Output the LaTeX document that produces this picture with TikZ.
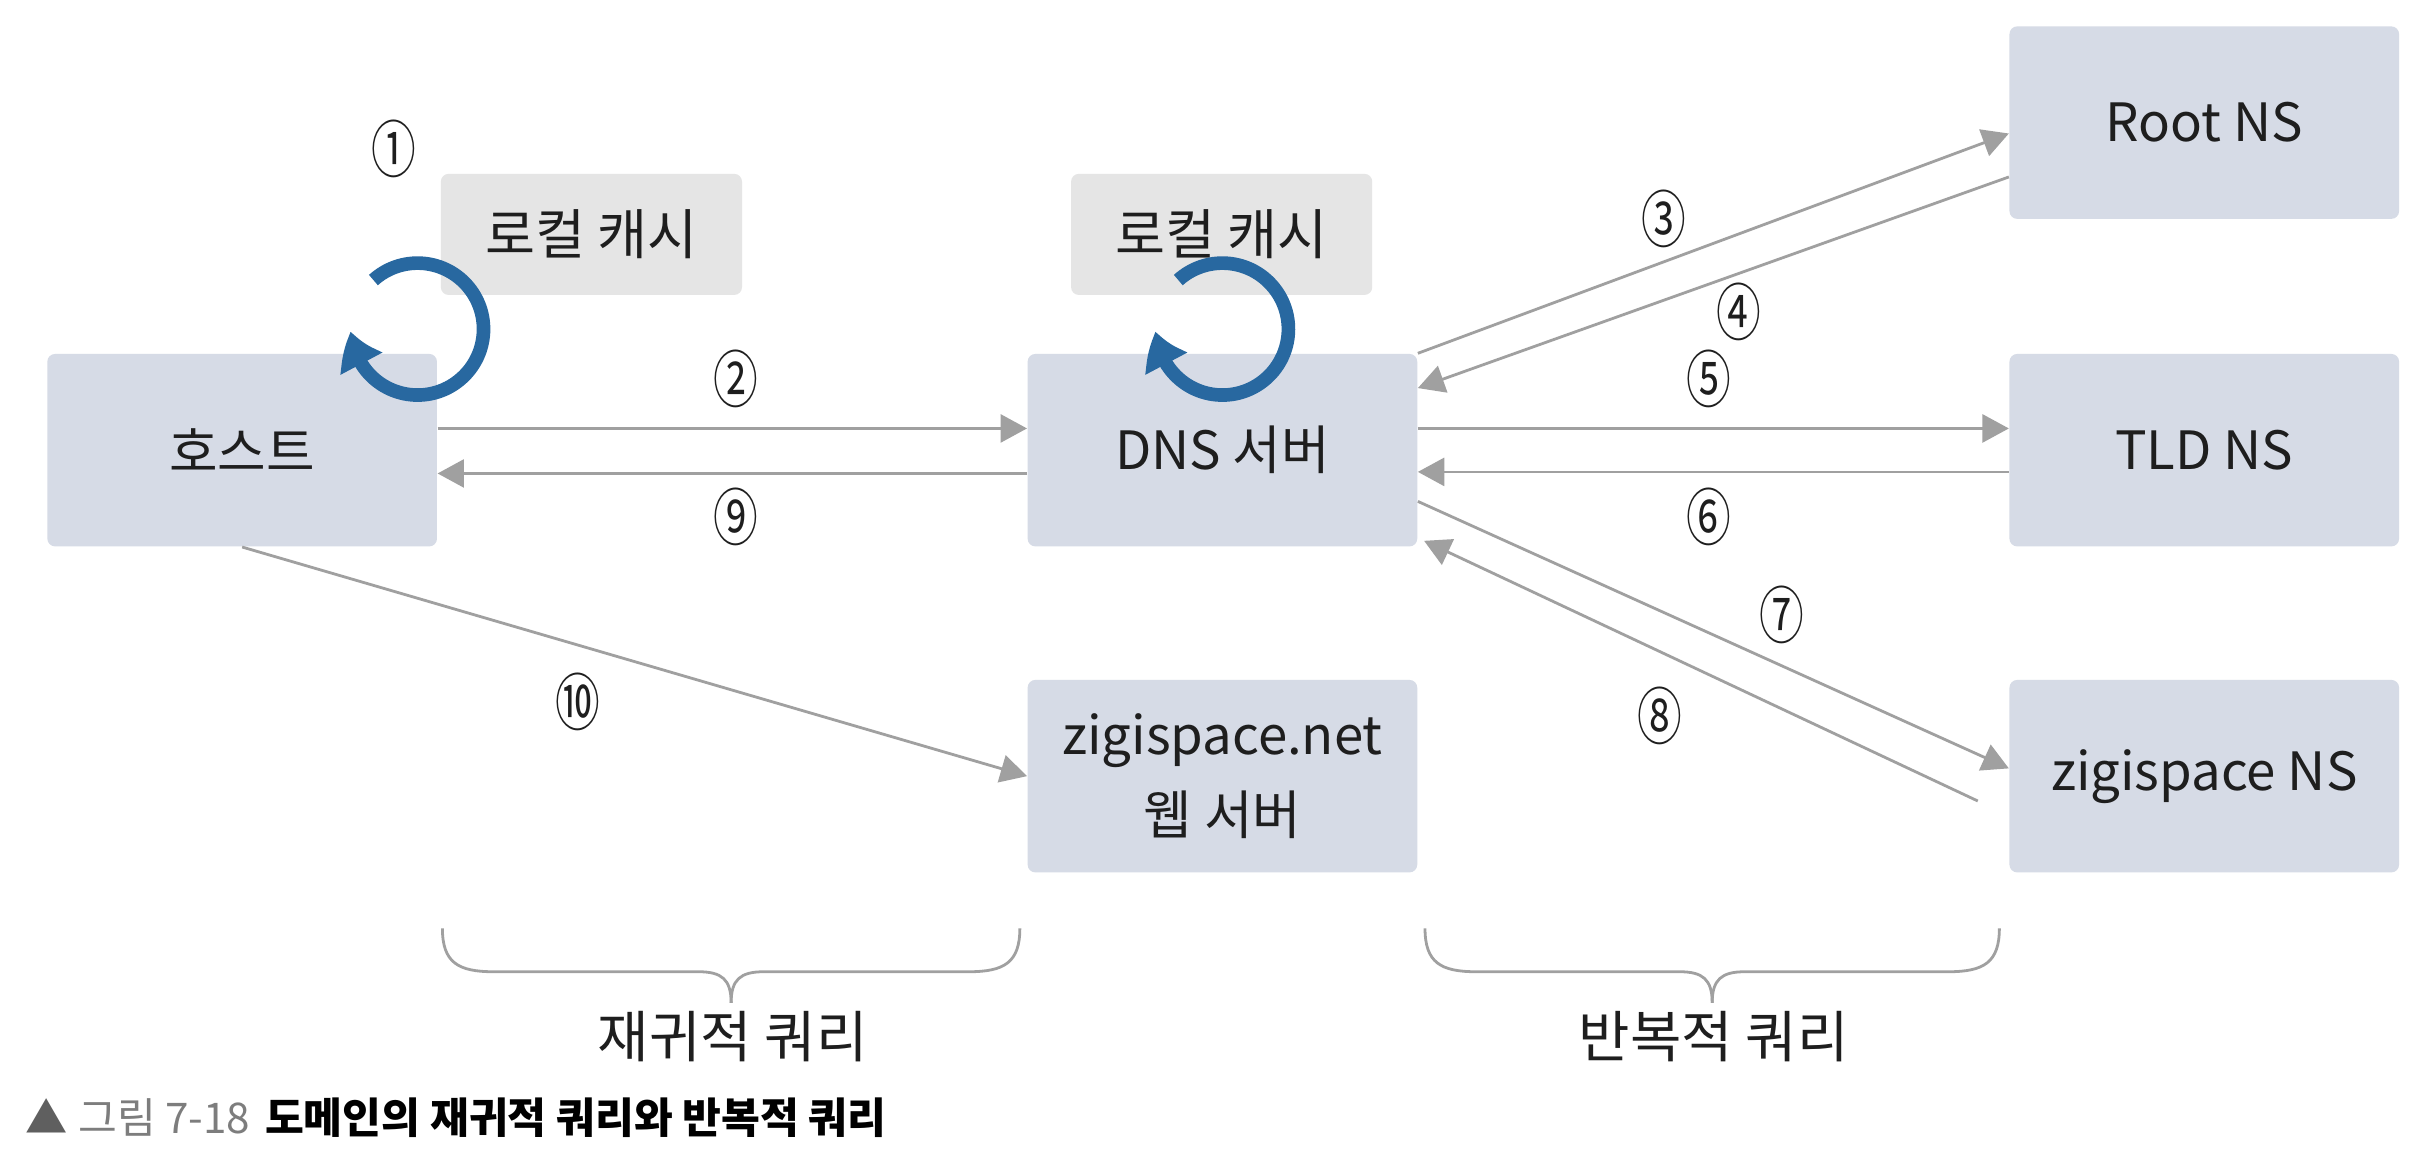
\documentclass[tikz,border=0pt]{standalone}
\usepackage{fontspec}
\usepackage{graphicx}
\setmainfont{Noto Sans CJK KR}
\usetikzlibrary{arrows.meta,bending}
\definecolor{boxfill}{RGB}{214,219,230}
\definecolor{cachefill}{RGB}{229,229,229}
\definecolor{arrowgray}{RGB}{160,160,160}
\definecolor{ringblue}{RGB}{40,104,160}
\definecolor{capgray}{RGB}{125,125,125}
\definecolor{capdark}{RGB}{95,95,95}
\definecolor{textdark}{RGB}{30,30,30}
\newcommand{\cnum}[1]{\scalebox{0.72}[1]{#1}}
\begin{document}
\begin{tikzpicture}[x=0.5pt,y=0.5pt,
  srvbox/.style={fill=boxfill, rounded corners=2.5pt, minimum width=125.5pt, minimum height=62pt, inner sep=0pt, font=\fontsize{17}{26}\selectfont, text=textdark, align=center},
  cachebox/.style={fill=cachefill, rounded corners=2.5pt, minimum width=97pt, minimum height=39pt, inner sep=0pt, font=\fontsize{17.5}{19}\selectfont, text=textdark},
  flowarrow/.style={draw=arrowgray, line width=0.9pt, -{Triangle[length=8.5pt,width=9pt]}},
  cachering/.style={draw=ringblue, line width=4.4pt, -{Triangle[length=11pt,width=14.5pt,bend]}},
  numlabel/.style={font=\fontsize{20}{20}\selectfont, inner sep=0pt, text=textdark},
  bracepath/.style={draw=arrowgray, line width=0.9pt},
  bracelabel/.style={font=\fontsize{18}{22}\selectfont, text=textdark},
]
\useasboundingbox (0,0) rectangle (1568,752);
\fill[white] (0,0) rectangle (1568,752);

% boxes
\node[srvbox] (host) at (156,462) {호스트};
\node[cachebox] (cacheL) at (381,601) {로컬 캐시};
\node[cachebox] (cacheM) at (787,601) {로컬 캐시};
\node[srvbox] (dns) at (787.5,462) {DNS 서버};
\node[srvbox] (root) at (1420,673) {Root NS};
\node[srvbox] (tld) at (1420,462) {TLD NS};
\node[srvbox] (zns) at (1420,252) {zigispace NS};
\node[srvbox] (web) at (787.5,252) {zigispace.net\\웹 서버};

% cache rings
\coordinate (ringL) at (269,540);
\coordinate (ringM) at (787.5,540);
\draw[cachering] ([shift={(132:42.5)}]ringL) arc[start angle=132, end angle=-178, radius=42.5];
\draw[cachering] ([shift={(132:42.5)}]ringM) arc[start angle=132, end angle=-178, radius=42.5];

% connectors
\draw[flowarrow] ([yshift=7pt]host.east) -- ([yshift=7pt]dns.west);
\draw[flowarrow] ([yshift=-7.5pt]dns.west) -- ([yshift=-7.5pt]host.east);
\draw[flowarrow] (dns.north east) -- ([yshift=-3.5pt]root.west);
\draw[flowarrow] ([yshift=-17.5pt]root.west) -- ([yshift=20pt]dns.east);
\draw[flowarrow] ([yshift=7pt]dns.east) -- ([yshift=7pt]tld.west);
\draw[flowarrow] ([yshift=-7pt]tld.west) -- ([yshift=-7pt]dns.east);
\draw[flowarrow] ([yshift=-16.5pt]dns.east) -- ([yshift=2.5pt]zns.west);
\draw[flowarrow] ([shift={(-10pt,-8pt)}]zns.west) -- ([shift={(2pt,2pt)}]dns.south east);
\draw[flowarrow] (host.south) -- (web.west);

% step numbers
\node[numlabel] (n1) at (254,656) {\cnum{①}};
\node[numlabel] (n2) at (474,508) {\cnum{②}};
\node[numlabel] (n3) at (1072,611) {\cnum{③}};
\node[numlabel] (n4) at (1120,551) {\cnum{④}};
\node[numlabel] (n5) at (1101,508) {\cnum{⑤}};
\node[numlabel] (n6) at (1101,419) {\cnum{⑥}};
\node[numlabel] (n7) at (1148,356) {\cnum{⑦}};
\node[numlabel] (n8) at (1069,291) {\cnum{⑧}};
\node[numlabel] (n9) at (474,419) {\cnum{⑨}};
\node[numlabel] (n10) at (372,300) {\cnum{⑩}};

% braces
\draw[bracepath] (285,154) .. controls (285,132) and (295,126) .. (318,126) -- (450,126) .. controls (465,126) and (471,121) .. (471,106);
\draw[bracepath] (657,154) .. controls (657,132) and (647,126) .. (624,126) -- (492,126) .. controls (477,126) and (471,121) .. (471,106);
\draw[bracepath] (918,154) .. controls (918,132) and (928,126) .. (951,126) -- (1082,126) .. controls (1097,126) and (1103,121) .. (1103,106);
\draw[bracepath] (1288,154) .. controls (1288,132) and (1278,126) .. (1255,126) -- (1124,126) .. controls (1109,126) and (1103,121) .. (1103,106);
\node[bracelabel] (recq) at (472,84) {재귀적 쿼리};
\node[bracelabel] (iterq) at (1104,84) {반복적 쿼리};

% caption
\node[anchor=west, inner sep=0pt, font=\fontsize{13.6}{16}\selectfont] (cap) at (16,32) {\textcolor{capdark}{▲}\hspace{0.25em}\textcolor{capgray}{그림 7-18}\hspace{0.35em}\textbf{도메인의 재귀적 쿼리와 반복적 쿼리}};
\end{tikzpicture}
\end{document}
